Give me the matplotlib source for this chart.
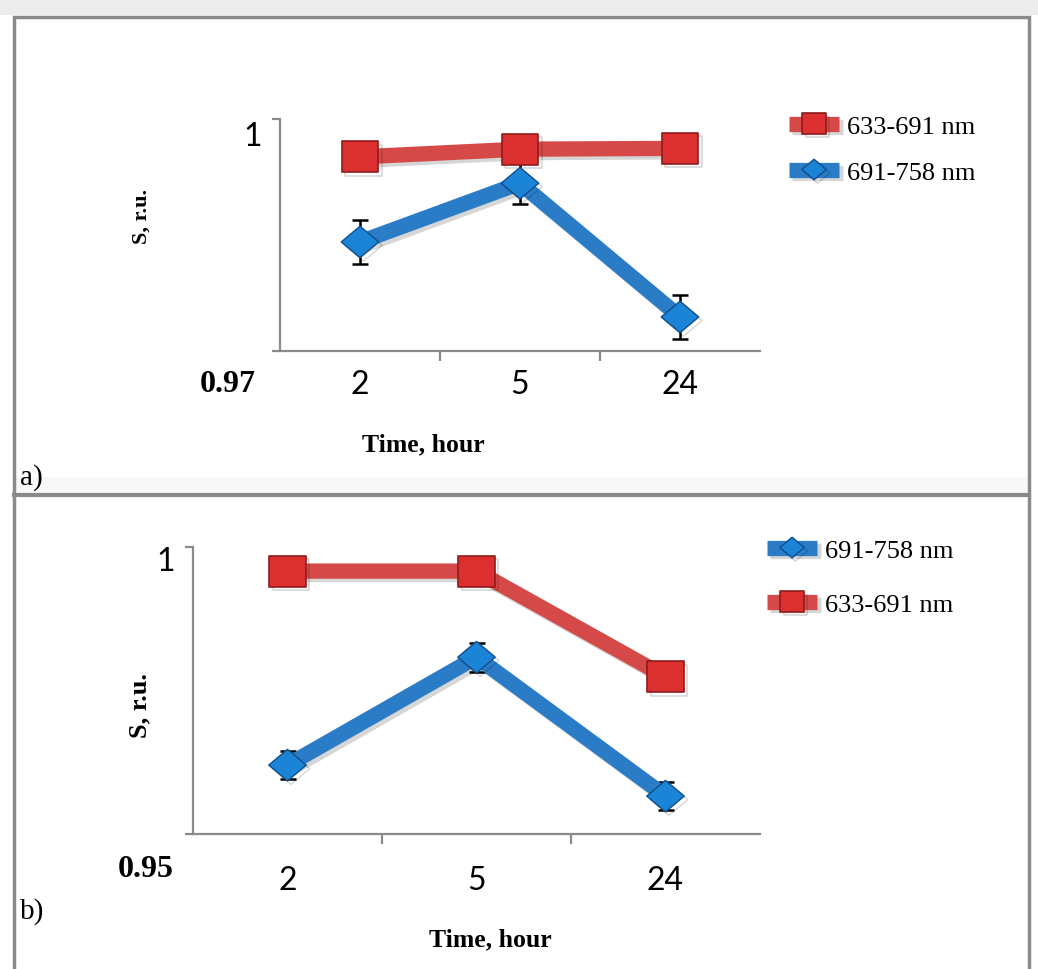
import matplotlib
matplotlib.use('Agg')
import matplotlib.pyplot as plt
import matplotlib.patheffects as pe
from matplotlib.patches import Rectangle
from matplotlib.path import Path

# data
hours = ['2', '5', '24']
red_a = [0.9951, 0.9961, 0.9962]
blue_a = [0.9841, 0.9917, 0.9744]
blue_a_err = [0.0029, 0.0027, 0.0028]
ylim_a = (0.97, 1.0)

red_b = [0.9958, 0.9958, 0.9774]
blue_b = [0.9620, 0.9808, 0.9566]
blue_b_err = [0.0025, 0.0025, 0.0025]
ylim_b = (0.95, 1.0)

label_red = '633-691 nm'
label_blue = '691-758 nm'

W, H = 1038, 970
RED_LINE = '#d54a48'
RED_FACE = '#dc2f2f'
RED_EDGE = '#8e1c1c'
BLUE_LINE = '#2a7cc6'
BLUE_FACE = '#1c84d6'
BLUE_EDGE = '#0e4e8c'
GRAY = '#8a8a8a'
SERIF = 'Liberation Serif'
SANS = 'Lato'

# slightly wide markers, like the stretched original
SQUARE = Path([(-1, -0.86), (1, -0.86), (1, 0.86), (-1, 0.86), (-1, -0.86)], closed=True)
DIAMOND = Path([(-1, 0), (0, 0.84), (1, 0), (0, -0.84), (-1, 0)], closed=True)

def px(x, y):
	# pixel position (from top-left) -> figure fraction
	return x / W, 1 - y / H

def shadow():
	return [pe.SimpleLineShadow(offset=(2.5, -2.5), shadow_color='k', alpha=0.16), pe.Normal()]

fig = plt.figure(figsize=(W / 100, H / 100), dpi=100)
fig.patch.set_facecolor('white')

# frame / panel borders
bg = fig.add_axes((0, 0, 1, 1), zorder=-5)
bg.set_xlim(0, W)
bg.set_ylim(H, 0)
bg.axis('off')
bg.add_patch(Rectangle((0, 0), W, 16, color='#ececec', lw=0))
bg.add_patch(Rectangle((14, 478), 1015, 18, color='#f8f8f8', lw=0))
bg.plot([14, 14, 1029, 1029], [H, 18, 18, H], color=GRAY, lw=2.5, solid_joinstyle='miter')
bg.plot([14, 1029], [496, 496], color=GRAY, lw=3)

def panel(rect, red, blue, blue_err, ylim, legend_order, leg_xy, leg_space):
	ax = fig.add_axes(rect)
	x = range(len(hours))
	ax.errorbar(x, blue, yerr=blue_err, fmt='none', ecolor='k', elinewidth=1.8,
		capsize=6, capthick=1.8, zorder=2)
	lr, = ax.plot(x, red, color=RED_LINE, lw=11, marker=SQUARE, ms=26, solid_capstyle='butt',
		mfc=RED_FACE, mec=RED_EDGE, mew=1.2, zorder=3, path_effects=shadow())
	lb, = ax.plot(x, blue, color=BLUE_LINE, lw=11, marker=DIAMOND, ms=27, solid_capstyle='butt',
		mfc=BLUE_FACE, mec=BLUE_EDGE, mew=1.0, zorder=4, path_effects=shadow())
	ax.set_xlim(-0.5, 2.5)
	ax.set_ylim(*ylim)
	for s in ('top', 'right'):
		ax.spines[s].set_visible(False)
	for s in ('left', 'bottom'):
		ax.spines[s].set_color(GRAY)
		ax.spines[s].set_linewidth(1.6)
	ax.set_yticks(list(ylim))
	ax.set_yticklabels([])
	ax.tick_params(axis='y', length=6, width=1.6, color=GRAY)
	ax.set_xticks(list(x))
	ax.set_xticks([0.5, 1.5], minor=True)
	ax.tick_params(axis='x', which='minor', length=7, width=1.6, color=GRAY)
	ax.tick_params(axis='x', which='major', length=0)
	ax.set_xticklabels([])
	ax.patch.set_alpha(0)
	handles = {'red': (lr, label_red), 'blue': (lb, label_blue)}
	for i, key in enumerate(legend_order):
		h, lab = handles[key]
		fig.legend([h], [lab], loc='center left', bbox_to_anchor=px(leg_xy[0], leg_xy[1] + i * leg_space),
			frameon=False, handlelength=1.9, handletextpad=0.3, markerscale=0.65,
			prop={'family': SERIF, 'size': 19}, borderpad=0, borderaxespad=0)
	return ax

# panel a: axis box x 280..760, y 120..352 px
ax_a = panel((280 / W, 1 - 352 / H, 480 / W, 232 / H), red_a, blue_a, blue_a_err, ylim_a,
	['red', 'blue'], (789, 127), 46)
# panel b: axis box x 193..760, y 548..835 px
ax_b = panel((193 / W, 1 - 835 / H, 567 / W, 287 / H), red_b, blue_b, blue_b_err, ylim_b,
	['blue', 'red'], (767, 551), 54)

# category labels
for ax, ypx in ((ax_a, 385), (ax_b, 881)):
	for i, h in enumerate(hours):
		xf = fig.transFigure.inverted().transform(ax.transData.transform((i, ax.get_ylim()[0])))[0]
		fig.text(xf, 1 - ypx / H, h, ha='center', va='center', family=SANS, fontsize=23)

# y tick labels
fig.text(*px(262, 137), '1', ha='right', va='center', family=SANS, fontsize=23)
fig.text(*px(175, 562), '1', ha='right', va='center', family=SANS, fontsize=23)
fig.text(*px(228, 385), '0.97', ha='center', va='center', family=SERIF, weight='bold', fontsize=23)
fig.text(*px(146, 870), '0.95', ha='center', va='center', family=SERIF, weight='bold', fontsize=23)

# axis titles
fig.text(*px(142, 216), 'S, r.u.', rotation=90, ha='center', va='center', family=SERIF, weight='bold', fontsize=16)
fig.text(*px(140, 706), 'S, r.u.', rotation=90, ha='center', va='center', family=SERIF, weight='bold', fontsize=19)
fig.text(*px(423, 445), 'Time, hour', ha='center', va='center', family=SERIF, weight='bold', fontsize=18.5)
fig.text(*px(490, 940), 'Time, hour', ha='center', va='center', family=SERIF, weight='bold', fontsize=18.5)

# panel tags
fig.text(*px(20, 478), 'a)', ha='left', va='center', family=SERIF, fontsize=21)
fig.text(*px(20, 912), 'b)', ha='left', va='center', family=SERIF, fontsize=21)

fig.savefig('out.png', dpi=100)
